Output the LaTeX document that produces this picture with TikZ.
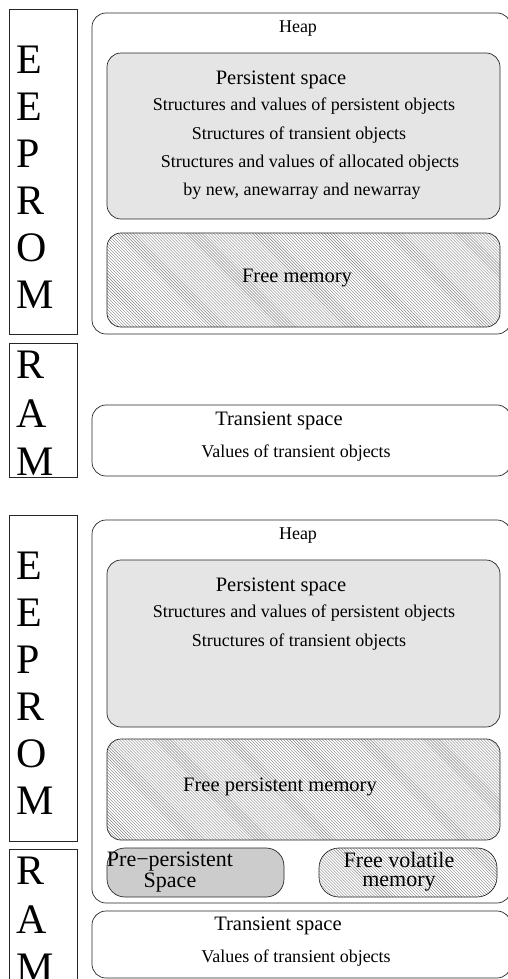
\documentclass[tikz,border=0pt]{standalone}
\usepackage{fontspec}
\setmainfont{Liberation Serif}
\usetikzlibrary{patterns}

\tikzset{
  frame/.style={draw=black!85, line width=0.7bp},
  chip/.style={font=\fontsize{42bp}{42bp}\selectfont, anchor=base west, inner sep=0pt},
  area/.style={frame, rounded corners=14bp},
  persist/.style={area, fill=black!10},
  hatched/.style={area, pattern=north west lines, pattern color=black!50},
  prepersist/.style={frame, rounded corners=18bp, fill=black!20},
  volatile/.style={frame, rounded corners=20bp, pattern=north west lines, pattern color=black!50},
  title/.style={font=\fontsize{20.5bp}{24bp}\selectfont, inner sep=0pt, text height=0.7em, text depth=0.22em},
  body/.style={font=\fontsize{18bp}{21bp}\selectfont, inner sep=0pt, text height=0.7em, text depth=0.22em},
  small/.style={font=\fontsize{22bp}{19bp}\selectfont, inner sep=0pt, align=center},
}

\begin{document}
\begin{tikzpicture}[x=1bp, y=-1bp]
\useasboundingbox (0,0) rectangle (508,979);

% ---------- upper layout ----------
\draw[frame] (9,9) rectangle (77,334);
\draw[frame] (9,343) rectangle (77,477);
\foreach \ch [count=\i from 0] in {E,E,P,R,O,M}
  \node[chip] (ua\i) at (16,73+47*\i) {\ch};
\node[chip] (ur0) at (16,378) {R};
\node[chip] (ur1) at (16,427) {A};
\node[chip] (ur2) at (16,475) {M};

\draw[area] (92,13) rectangle (511,334);
\node[body] (uheap) at (298,30) {Heap};

\draw[persist] (107,53) rectangle (500,219);
\node[title] (upers) at (281,82) {Persistent space};
\node[body] (up1) at (304,108) {Structures and values of persistent objects};
\node[body] (up2) at (299,137) {Structures of transient objects};
\node[body] (up3) at (310,165) {Structures and values of allocated objects};
\node[body] (up4) at (302,193) {by new, anewarray and newarray};

\draw[hatched] (107,233) rectangle (500,327);
\node[title] (ufree) at (297,280) {Free memory};

\draw[area] (92,405) rectangle (511,476);
\node[title] (utrans) at (279,423) {Transient space};
\node[body] (utransv) at (296,455) {Values of transient objects};

% ---------- lower layout ----------
\draw[frame] (9,515) rectangle (77,841);
\draw[frame] (9,849) rectangle (77,995);
\foreach \ch [count=\i from 0] in {E,E,P,R,O,M}
  \node[chip] (la\i) at (16,579+47*\i) {\ch};
\node[chip] (lr0) at (16,884) {R};
\node[chip] (lr1) at (16,933) {A};
\node[chip] (lr2) at (16,981) {M};

\draw[area] (92,520) rectangle (511,903);
\node[body] (lheap) at (298,537) {Heap};

\draw[persist] (107,560) rectangle (500,727);
\node[title] (lpers) at (281,589) {Persistent space};
\node[body] (lp1) at (304,615) {Structures and values of persistent objects};
\node[body] (lp2) at (299,644) {Structures of transient objects};

\draw[hatched] (107,739) rectangle (500,840);
\node[title] (lfree) at (280,789) {Free persistent memory};

\draw[prepersist] (107,848) rectangle (284,897);
\node[small] (lprep) at (170,872) {Pre\textminus persistent\\ Space};

\draw[volatile] (319,848) rectangle (497,897);
\node[small] (lvol) at (399,872) {Free volatile\\ memory};

\draw[area] (92,911) rectangle (511,978);
\node[title] (ltrans) at (278,928) {Transient space};
\node[body] (ltransv) at (296,960) {Values of transient objects};
\end{tikzpicture}
\end{document}
